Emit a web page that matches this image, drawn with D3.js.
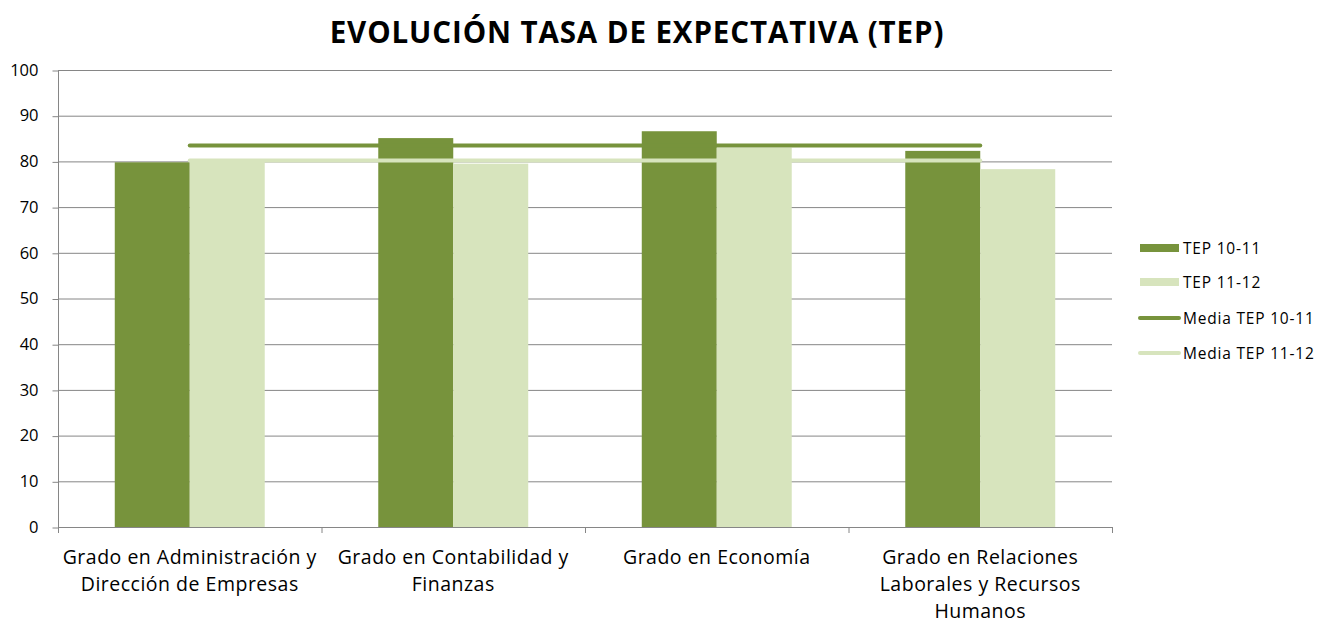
<!DOCTYPE html>
<html><head><meta charset="utf-8">
<script src="https://cdn.jsdelivr.net/npm/d3@7"></script>
<style>body{margin:0;background:#fff}svg{display:block;font-family:"Open Sans","Liberation Sans",Arial,sans-serif}</style>
</head><body><svg id="c" width="1321" height="625"></svg>
<script>
const categories = [
  ["Grado en Administración y","Dirección de Empresas"],
  ["Grado en Contabilidad y","Finanzas"],
  ["Grado en Economía"],
  ["Grado en Relaciones","Laborales y Recursos","Humanos"]
];
const seriesNames = ["TEP 10-11","TEP 11-12"];
const tep1011 = [79.8, 85.1, 86.6, 82.3];
const tep1112 = [80.5, 79.5, 83.0, 78.3];
const mediaNames = ["Media TEP 10-11","Media TEP 11-12"];
const media1011 = [83.5, 83.5, 83.5, 83.5];
const media1112 = [80.2, 80.2, 80.2, 80.2];
const yTicks = [0,10,20,30,40,50,60,70,80,90,100];

const dark = "#77933C", light = "#D7E4BD", grid = "#868686";
const FONT = "Open Sans, Liberation Sans, Arial, sans-serif";
const svg = d3.select("#c");
const L = 58, R = 1112, T = 70, B = 527;
const x = d3.scaleBand().domain(d3.range(categories.length)).range([L, R]);
const y = d3.scaleLinear().domain([0, 100]).range([B, T]);
const inner = d3.scaleBand().domain([0,1]).range([0, x.bandwidth()]).paddingInner(0).paddingOuter(0.757);

// title
svg.append("text").attr("x", 637).attr("y", 42.5).attr("text-anchor","middle")
  .attr("font-size", 29.5).attr("font-weight","bold").attr("letter-spacing", 0.9).attr("fill","#000")
  .text("EVOLUCIÓN TASA DE EXPECTATIVA (TEP)");

// gridlines
svg.append("g").selectAll("line").data(yTicks.filter(d=>d>0)).join("line")
  .attr("x1", L).attr("x2", R).attr("y1", d=>y(d)+0.5).attr("y2", d=>y(d)+0.5)
  .attr("stroke", grid).attr("stroke-width", 1);

// y axis
const ya = svg.append("g").attr("transform", `translate(${L+0.5},0)`)
  .call(d3.axisLeft(y).tickValues(yTicks).tickSize(6).tickPadding(14));
ya.select(".domain").attr("stroke", grid).attr("d", `M0,${T}V${B}`);
ya.selectAll(".tick line").attr("stroke", grid).attr("transform","translate(0,0.5)");
ya.selectAll(".tick text").attr("font-size", 16.5).attr("fill","#000").attr("font-family",FONT);

// bars
const data = categories.map((c,i)=>[tep1011[i], tep1112[i]]);
const groups = svg.append("g").selectAll("g").data(data).join("g")
  .attr("transform",(d,i)=>`translate(${x(i)},0)`);
groups.selectAll("rect").data(d=>d).join("rect")
  .attr("x",(d,j)=>inner(j)).attr("width", inner.bandwidth())
  .attr("y", d=>y(d)).attr("height", d=>B - y(d))
  .attr("fill",(d,j)=> j===0?dark:light);

// x axis
svg.append("line").attr("x1",L).attr("x2",R).attr("y1",B+0.5).attr("y2",B+0.5).attr("stroke",grid);
svg.append("g").selectAll("line").data(d3.range(categories.length+1)).join("line")
  .attr("x1", i=> (i<categories.length? x(i): R)+0.5).attr("x2", i=> (i<categories.length? x(i): R)+0.5)
  .attr("y1", B).attr("y2", B+6).attr("stroke", grid);

// category labels
categories.forEach((lines,i)=>{
  const t = svg.append("text").attr("text-anchor","middle").attr("font-size",19.5)
    .attr("letter-spacing",0.5).attr("fill","#000");
  lines.forEach((ln,k)=>{
    t.append("tspan").attr("x", x(i)+x.bandwidth()/2).attr("y", 564 + k*27).text(ln);
  });
});

// media lines
const line = d3.line().x((d,i)=>x(i)+x.bandwidth()/2).y(d=>y(d));
svg.append("path").datum(media1112).attr("d", line).attr("fill","none")
  .attr("stroke", light).attr("stroke-width", 4).attr("stroke-linecap","round");
svg.append("path").datum(media1011).attr("d", line).attr("fill","none")
  .attr("stroke", dark).attr("stroke-width", 4).attr("stroke-linecap","round");

// legend
const lg = svg.append("g");
const legendItems = [
  {name: seriesNames[0], type:"rect", color: dark, y: 248},
  {name: seriesNames[1], type:"rect", color: light, y: 282},
  {name: mediaNames[0], type:"line", color: dark, y: 318},
  {name: mediaNames[1], type:"line", color: light, y: 353}
];
legendItems.forEach(it=>{
  if(it.type==="rect"){
    lg.append("rect").attr("x",1140).attr("y",it.y-4).attr("width",39).attr("height",8).attr("fill",it.color);
  } else {
    lg.append("line").attr("x1",1140).attr("x2",1179).attr("y1",it.y).attr("y2",it.y)
      .attr("stroke",it.color).attr("stroke-width",4).attr("stroke-linecap","round");
  }
  lg.append("text").attr("x",1183).attr("y",it.y+5.5).attr("font-size",15.5)
    .attr("letter-spacing",0.8).attr("fill","#000").text(it.name);
});
</script></body></html>
